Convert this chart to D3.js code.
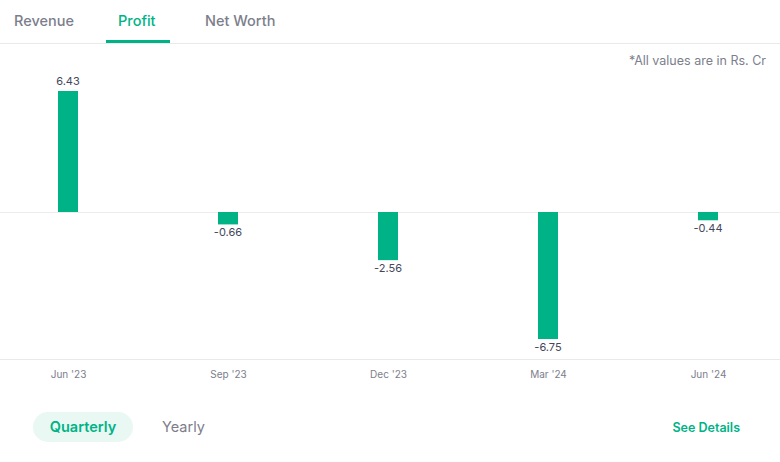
<!DOCTYPE html>
<html><head><meta charset="utf-8">
<script src="https://cdn.jsdelivr.net/npm/d3@7"></script>
<style>
html,body{margin:0;padding:0;background:#fff;}
svg{display:block;font-family:Inter,"Noto Sans",sans-serif;}
</style></head>
<body><svg id="c" width="780" height="462"></svg>
<script>
const categories = ["Jun '23","Sep '23","Dec '23","Mar '24","Jun '24"];
const values = [6.43,-0.66,-2.56,-6.75,-0.44];
const tabs = ["Revenue","Profit","Net Worth"];
const activeTab = "Profit";

const GREEN = "#00b386", GRAY = "#7c7e8c", DARK = "#44475b";
const svg = d3.select("#c");

// tabs
const tabX = [14,118,205];
tabs.forEach((t,i)=>{
  svg.append("text").attr("x",tabX[i]).attr("y",26)
    .attr("font-size",14.5).attr("font-weight",500)
    .attr("fill", t===activeTab?GREEN:GRAY).text(t);
});
svg.append("line").attr("x1",0).attr("x2",780).attr("y1",43.5).attr("y2",43.5)
  .attr("stroke","#e9e9eb").attr("stroke-width",1);
svg.append("rect").attr("x",106).attr("y",40).attr("width",64).attr("height",3).attr("fill",GREEN);

svg.append("text").attr("x",766).attr("y",65).attr("text-anchor","end")
  .attr("font-size",12.5).attr("fill",GRAY).text("*All values are in Rs. Cr");

const x = d3.scalePoint().domain(categories).range([68,708]);
const y = d3.scaleLinear().domain([d3.min(values), d3.max(values)]).range([339,91]);
const bw = 20;

// zero line
svg.append("line").attr("x1",0).attr("x2",780).attr("y1",y(0)+0.5).attr("y2",y(0)+0.5)
  .attr("stroke","#ececee");
// axis baseline
svg.append("line").attr("x1",0).attr("x2",780).attr("y1",359.5).attr("y2",359.5)
  .attr("stroke","#e9e9eb");

svg.selectAll("rect.bar").data(values).join("rect").attr("class","bar")
  .attr("x",(d,i)=>x(categories[i])-bw/2).attr("width",bw)
  .attr("y",d=>Math.min(y(d),y(0))).attr("height",d=>Math.abs(y(d)-y(0)))
  .attr("fill",GREEN);

svg.selectAll("text.val").data(values).join("text").attr("class","val")
  .attr("x",(d,i)=>x(categories[i])).attr("text-anchor","middle")
  .attr("y",d=> d>=0 ? y(d)-6 : y(d)+12)
  .attr("font-size",11).attr("fill",DARK).text(d=>d.toFixed(2));

const xAxis = d3.axisBottom(x).tickSize(0).tickPadding(0);
const ax = svg.append("g").attr("transform","translate(0,371)").call(xAxis);
ax.select(".domain").remove();
ax.selectAll("text").attr("font-size",10).attr("fill",GRAY)
  .attr("font-family","Inter,'Noto Sans',sans-serif").attr("dy","0.71em");

// bottom controls
svg.append("rect").attr("x",33).attr("y",412).attr("width",100).attr("height",30).attr("rx",15)
  .attr("fill","#e9f8f3");
svg.append("text").attr("x",83).attr("y",432).attr("text-anchor","middle")
  .attr("font-size",14.5).attr("font-weight",600).attr("fill",GREEN).text("Quarterly");
svg.append("text").attr("x",162).attr("y",432)
  .attr("font-size",14.5).attr("fill",GRAY).text("Yearly");
svg.append("text").attr("x",740).attr("y",432).attr("text-anchor","end")
  .attr("font-size",12.5).attr("font-weight",600).attr("fill",GREEN).text("See Details");
</script></body></html>
